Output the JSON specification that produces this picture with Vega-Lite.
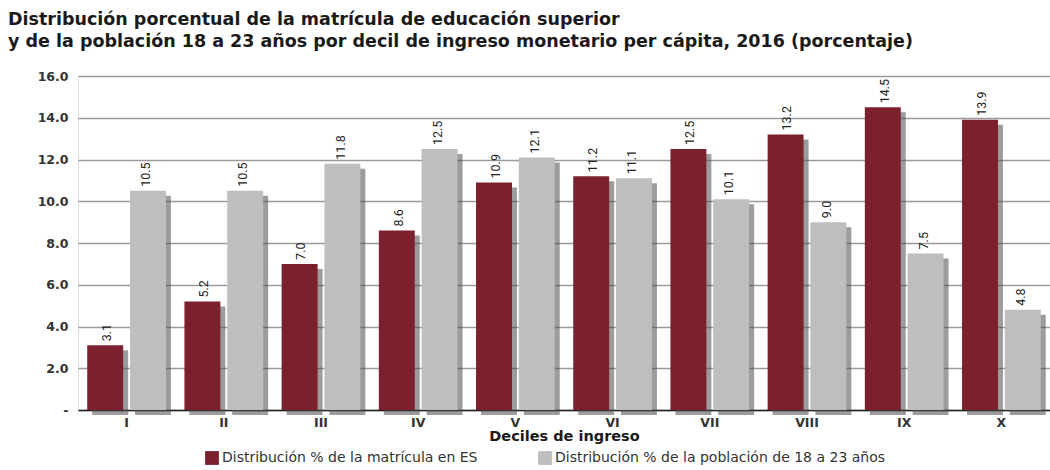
{
  "$schema": "https://vega.github.io/schema/vega-lite/v6.json",
  "width": 972,
  "height": 334,
  "autosize": {"type": "none"},
  "padding": {"left": 78, "top": 76, "right": 0, "bottom": 60},
  "background": "white",
  "title": {
    "text": ["Distribución porcentual de la matrícula de educación superior", "y de la población 18 a 23 años por decil de ingreso monetario per cápita, 2016 (porcentaje)"],
    "anchor": "start",
    "frame": "group",
    "dx": -70,
    "offset": 20,
    "font": "DejaVu Sans",
    "fontSize": 17.5,
    "fontWeight": "bold",
    "lineHeight": 22,
    "color": "#1a1a1a"
  },
  "data": {
    "values": [
      {"decil": "I", "serie": "Distribución % de la matrícula en ES", "valor": 3.1},
      {"decil": "II", "serie": "Distribución % de la matrícula en ES", "valor": 5.2},
      {"decil": "III", "serie": "Distribución % de la matrícula en ES", "valor": 7.0},
      {"decil": "IV", "serie": "Distribución % de la matrícula en ES", "valor": 8.6},
      {"decil": "V", "serie": "Distribución % de la matrícula en ES", "valor": 10.9},
      {"decil": "VI", "serie": "Distribución % de la matrícula en ES", "valor": 11.2},
      {"decil": "VII", "serie": "Distribución % de la matrícula en ES", "valor": 12.5},
      {"decil": "VIII", "serie": "Distribución % de la matrícula en ES", "valor": 13.2},
      {"decil": "IX", "serie": "Distribución % de la matrícula en ES", "valor": 14.5},
      {"decil": "X", "serie": "Distribución % de la matrícula en ES", "valor": 13.9},
      {"decil": "I", "serie": "Distribución % de la población de 18 a 23 años", "valor": 10.5},
      {"decil": "II", "serie": "Distribución % de la población de 18 a 23 años", "valor": 10.5},
      {"decil": "III", "serie": "Distribución % de la población de 18 a 23 años", "valor": 11.8},
      {"decil": "IV", "serie": "Distribución % de la población de 18 a 23 años", "valor": 12.5},
      {"decil": "V", "serie": "Distribución % de la población de 18 a 23 años", "valor": 12.1},
      {"decil": "VI", "serie": "Distribución % de la población de 18 a 23 años", "valor": 11.1},
      {"decil": "VII", "serie": "Distribución % de la población de 18 a 23 años", "valor": 10.1},
      {"decil": "VIII", "serie": "Distribución % de la población de 18 a 23 años", "valor": 9.0},
      {"decil": "IX", "serie": "Distribución % de la población de 18 a 23 años", "valor": 7.5},
      {"decil": "X", "serie": "Distribución % de la población de 18 a 23 años", "valor": 4.8}
    ]
  },
  "encoding": {
    "x": {
      "field": "decil",
      "type": "nominal",
      "sort": ["I", "II", "III", "IV", "V", "VI", "VII", "VIII", "IX", "X"],
      "scale": {"paddingInner": 0.19, "paddingOuter": 0.095},
      "axis": {
        "title": "Deciles de ingreso",
        "titleFont": "DejaVu Sans",
        "titleFontSize": 14.5,
        "titleFontWeight": "bold",
        "titleColor": "#1a1a1a",
        "titlePadding": 1,
        "labelAngle": 0,
        "labelFont": "DejaVu Sans",
        "labelFontSize": 12.5,
        "labelFontWeight": "bold",
        "labelColor": "#333333",
        "labelPadding": 6,
        "ticks": false,
        "domainColor": "#222222",
        "domainWidth": 1.5,
        "grid": false
      }
    },
    "y": {
      "field": "valor",
      "type": "quantitative",
      "scale": {"domain": [0, 16]},
      "axis": {
        "title": null,
        "values": [0, 2, 4, 6, 8, 10, 12, 14, 16],
        "labelExpr": "datum.value == 0 ? '-' : format(datum.value, '.1f')",
        "labelFont": "DejaVu Sans",
        "labelFontSize": 12.5,
        "labelFontWeight": "bold",
        "labelColor": "#333333",
        "labelPadding": 10,
        "ticks": false,
        "domain": false,
        "gridColor": "#9a9a9a",
        "gridWidth": 1.5
      }
    }
  },
  "layer": [
    {
      "mark": {"type": "bar", "yOffset": 5, "y2Offset": 3, "color": "#4a4a4a", "opacity": 0.55},
      "encoding": {
        "xOffset": {
          "field": "serie",
          "type": "nominal",
          "sort": ["Distribución % de la matrícula en ES", "Distribución % de la población de 18 a 23 años"],
          "scale": {"paddingInner": 0.16, "range": [5, 83.7]}
        }
      }
    },
    {
      "mark": {"type": "bar"},
      "encoding": {
        "xOffset": {
          "field": "serie",
          "type": "nominal",
          "sort": ["Distribución % de la matrícula en ES", "Distribución % de la población de 18 a 23 años"],
          "scale": {"paddingInner": 0.16}
        },
        "color": {
          "field": "serie",
          "type": "nominal",
          "sort": ["Distribución % de la matrícula en ES", "Distribución % de la población de 18 a 23 años"],
          "scale": {"range": ["#7a212d", "#bebebe"]},
          "legend": {
            "title": null,
            "orient": "none",
            "legendX": 127,
            "legendY": 375,
            "direction": "horizontal",
            "columns": 2,
            "columnPadding": 60,
            "symbolType": "square",
            "symbolSize": 190,
            "symbolStrokeWidth": 0,
            "labelFont": "DejaVu Sans",
            "labelFontSize": 14,
            "labelColor": "#333333",
            "labelLimit": 500,
            "labelOffset": 3
          }
        }
      }
    },
    {
      "mark": {"type": "text", "angle": -90, "align": "left", "baseline": "middle", "dx": 4, "font": "Roboto", "fontSize": 12.5, "color": "#222222"},
      "encoding": {
        "xOffset": {
          "field": "serie",
          "type": "nominal",
          "sort": ["Distribución % de la matrícula en ES", "Distribución % de la población de 18 a 23 años"],
          "scale": {"paddingInner": 0.16}
        },
        "text": {"field": "valor", "type": "quantitative", "format": ".1f"}
      }
    }
  ],
  "resolve": {"scale": {"xOffset": "independent"}}
}
